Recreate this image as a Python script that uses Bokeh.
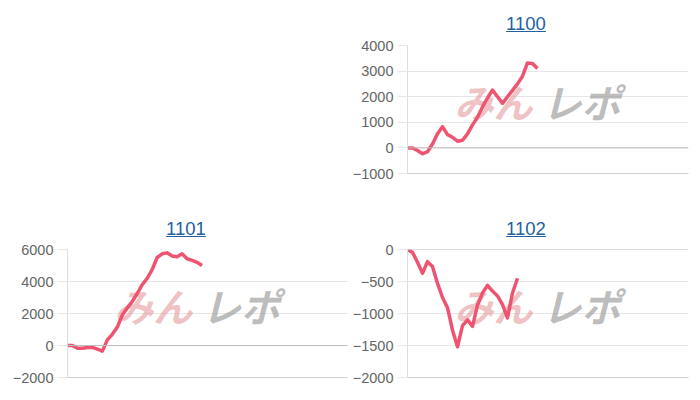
from bokeh.plotting import figure
from bokeh.models import Range1d, FixedTicker, Span, Div, Spacer
from bokeh.layouts import row, column
from bokeh.core.properties import value
from bokeh.embed import file_html
from bokeh.resources import INLINE

# ---- data ----
title_1100 = "1100"
title_1101 = "1101"
title_1102 = "1102"

vals_1100 = [0, 0, -100, -230, -150, 150, 550, 830, 520, 415, 260, 300, 550, 900,
             1200, 1600, 1950, 2260, 2000, 1740, 2000, 2250, 2500, 2800, 3320, 3300, 3100]
vals_1101 = [0, 0, -170, -170, -120, -110, -230, -350, 350, 700, 1150, 1900, 2350, 2750,
             3250, 3800, 4200, 4750, 5500, 5730, 5790, 5600, 5550, 5730, 5420, 5320, 5200, 5000]
vals_1102 = [0, -45, -200, -370, -190, -265, -530, -750, -910, -1260, -1520, -1190, -1100,
             -1200, -870, -680, -560, -650, -725, -860, -1070, -680, -450]

ticks_1100 = [-1000, 0, 1000, 2000, 3000, 4000]
ticks_1101 = [-2000, 0, 2000, 4000, 6000]
ticks_1102 = [-2000, -1500, -1000, -500, 0]

X_END = 56.2
LINE_COLOR = "#ee5470"
TICK_COLOR = "#666666"
GRID_COLOR = "#e6e6e6"


def make_title(text, width, pad_left):
    html = ('<div style="width:%dpx;box-sizing:border-box;padding-left:%dpx;padding-top:3px;'
            'text-align:center;font-family:\'Liberation Sans\',Arial,sans-serif;font-size:18.5px;">'
            '<a href="#" style="color:#23609f;text-decoration:underline;">%s</a></div>'
            % (width, pad_left, text))
    return Div(text=html, width=width, height=30, margin=0)


def make_chart(vals, ticks, width, height, border_top, border_bottom, border_right):
    lo, hi = ticks[0], ticks[-1]
    p = figure(width=width, height=height, output_backend="svg", toolbar_location=None,
               x_range=Range1d(0, X_END), y_range=Range1d(lo, hi),
               min_border_left=59, min_border_right=border_right,
               min_border_top=border_top, min_border_bottom=border_bottom,
               tools="")
    p.outline_line_color = None
    p.background_fill_color = "white"
    p.border_fill_color = "white"
    p.xgrid.visible = False
    p.ygrid.grid_line_color = GRID_COLOR
    p.ygrid.ticker = FixedTicker(ticks=ticks)

    p.yaxis.ticker = FixedTicker(ticks=ticks)
    p.yaxis.major_label_text_color = TICK_COLOR
    p.yaxis.major_label_text_font = "Liberation Sans"
    p.yaxis.major_label_text_font_size = "14.5px"
    p.yaxis.axis_line_color = "#dddddd"
    p.yaxis.major_tick_line_color = GRID_COLOR
    p.yaxis.major_tick_out = 10
    p.yaxis.major_tick_in = 0
    p.yaxis.minor_tick_line_color = None
    p.yaxis.major_label_standoff = 4

    p.xaxis.ticker = FixedTicker(ticks=[])
    p.xaxis.major_tick_line_color = None
    p.xaxis.minor_tick_line_color = None
    p.xaxis.major_tick_out = 0
    p.xaxis.major_label_standoff = 0
    p.xaxis.major_label_text_font_size = "0px"
    p.xaxis.axis_line_color = "#d0d0d0"

    p.add_layout(Span(location=0, dimension="width", line_color="#bdbdbd", line_width=1))

    # watermark
    ymid = hi - (hi - lo) * 0.43
    p.text(x=[9.4], y=[ymid], text=["みん"], text_font=value("Noto Sans CJK JP"),
           text_font_style="bold italic", text_font_size="39px", text_color="#e59a9a",
           text_alpha=0.6, text_align="left", text_baseline="middle")
    p.text(x=[27.0], y=[ymid], text=["レポ"], text_font=value("Noto Sans CJK JP"),
           text_font_style="bold italic", text_font_size="39px", text_color="#a0a0a0",
           text_alpha=0.7, text_align="left", text_baseline="middle")

    xs = list(range(len(vals)))
    p.line(xs, vals, line_width=3.5, line_color=LINE_COLOR, line_join="round")
    return p


fig1100 = make_chart(vals_1100, ticks_1100, 344, 175, 7, 40, 4)
fig1101 = make_chart(vals_1101, ticks_1101, 340, 146, 6, 12, 1)
fig1102 = make_chart(vals_1102, ticks_1102, 344, 146, 6, 12, 4)

top = row(Spacer(width=340, height=205, margin=0),
          column(make_title(title_1100, 344, 12), fig1100))
bottom = row(column(make_title(title_1101, 340, 16), fig1101),
             column(make_title(title_1102, 344, 12), fig1102))
layout = column(top, bottom, margin=(8, 0, 0, 8))

open("out.html", "w").write(file_html(layout, INLINE))
